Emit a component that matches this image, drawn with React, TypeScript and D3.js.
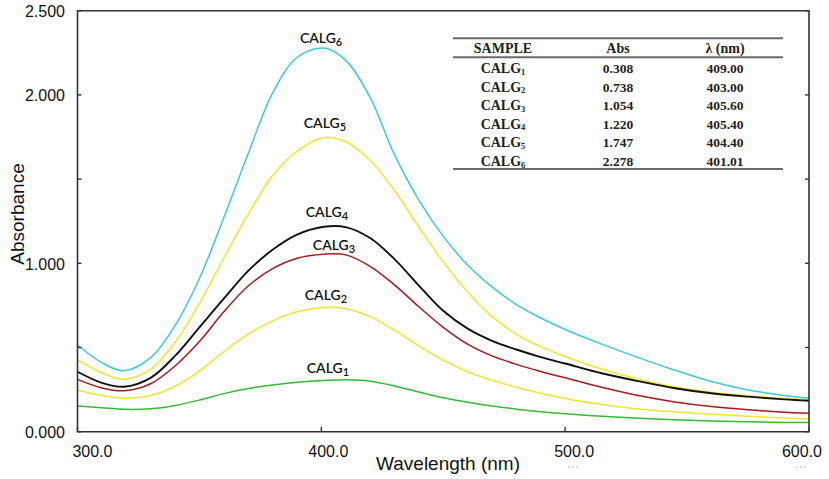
import { useEffect, useRef } from 'react';
import * as d3 from 'd3';

// wavelength grid (nm) shared by all spectra
const wavelengths = [300, 310, 319, 330, 340, 350, 360, 370, 380, 390, 401, 410, 420, 430, 440, 450, 460, 470, 480, 490, 500, 515, 530, 545, 560, 575, 590, 600];

const calg1 = [0.153, 0.142, 0.133, 0.136, 0.156, 0.188, 0.226, 0.256, 0.278, 0.294, 0.304, 0.308, 0.300, 0.272, 0.236, 0.202, 0.175, 0.153, 0.134, 0.119, 0.107, 0.092, 0.080, 0.071, 0.064, 0.059, 0.055, 0.054];
const calg2 = [0.248, 0.215, 0.198, 0.215, 0.270, 0.360, 0.475, 0.580, 0.658, 0.712, 0.738, 0.730, 0.683, 0.603, 0.510, 0.425, 0.356, 0.305, 0.264, 0.228, 0.197, 0.162, 0.135, 0.117, 0.103, 0.092, 0.081, 0.075];
const calg3 = [0.311, 0.260, 0.243, 0.285, 0.390, 0.535, 0.712, 0.865, 0.968, 1.030, 1.054, 1.050, 0.982, 0.872, 0.742, 0.620, 0.520, 0.450, 0.400, 0.358, 0.320, 0.264, 0.215, 0.177, 0.149, 0.130, 0.116, 0.109];
const calg4 = [0.356, 0.290, 0.267, 0.320, 0.450, 0.620, 0.790, 0.955, 1.080, 1.170, 1.217, 1.215, 1.150, 1.025, 0.868, 0.718, 0.612, 0.540, 0.488, 0.443, 0.405, 0.347, 0.300, 0.258, 0.228, 0.208, 0.192, 0.184];
const calg5 = [0.426, 0.350, 0.311, 0.370, 0.530, 0.760, 1.030, 1.290, 1.520, 1.665, 1.747, 1.722, 1.612, 1.432, 1.215, 1.010, 0.830, 0.685, 0.578, 0.505, 0.447, 0.372, 0.312, 0.266, 0.235, 0.213, 0.197, 0.188];
const calg6 = [0.515, 0.410, 0.362, 0.440, 0.630, 0.910, 1.270, 1.650, 2.010, 2.222, 2.278, 2.205, 1.985, 1.645, 1.375, 1.160, 0.990, 0.860, 0.755, 0.675, 0.607, 0.520, 0.440, 0.365, 0.298, 0.248, 0.215, 0.198];

const seriesNames = ['1', '2', '3', '4', '5', '6'];
const seriesValues = [calg1, calg2, calg3, calg4, calg5, calg6];
const seriesColors = ['#33bb33', '#f0e62c', '#a8191c', '#111111', '#f0e62c', '#3ccbd2'];
// label anchor (wavelength, absorbance) for each curve label
const labelAt: [number, number][] = [[402.7, 0.348], [401.9, 0.782], [405.2, 1.079], [402.3, 1.275], [401.5, 1.803], [399.9, 2.31]];

const yTicks = [0, 0.5, 1, 1.5, 2, 2.5];
const yTickLabels = ['0.000', '', '1.000', '', '2.000', '2.500'];
const xTicks = [300, 400, 500, 600];
const xTickLabels = ['300.0', '400.0', '500.0', '600.0'];
const xTickDx = [15, 7, 9, -7];

const tableHead = ['SAMPLE', 'Abs', 'λ (nm)'];
const tableAbs = ['0.308', '0.738', '1.054', '1.220', '1.747', '2.278'];
const tableLambda = ['409.00', '403.00', '405.60', '405.40', '404.40', '401.01'];

export default function App() {
  const svgRef = useRef<SVGSVGElement>(null);
  const width = 829;
  const height = 479;

  useEffect(() => {
    if (!svgRef.current) return;
    const svg = d3.select(svgRef.current);
    svg.selectAll('*').remove();

    const x = d3.scaleLinear().domain([300, 600]).range([77.5, 809]);
    const y = d3.scaleLinear().domain([0, 2.5]).range([431.7, 10.7]);

    svg.append('rect').attr('width', width).attr('height', height).attr('fill', '#fff');

    // spectra
    const line = d3.line<number>()
      .x((_, i) => x(wavelengths[i]))
      .y(d => y(d))
      .curve(d3.curveCatmullRom.alpha(0.5));

    const order = [0, 1, 2, 4, 3, 5];
    order.forEach(i => {
      svg.append('path')
        .attr('d', line(seriesValues[i]))
        .attr('fill', 'none')
        .attr('stroke', seriesColors[i])
        .attr('stroke-width', i === 3 ? 1.9 : 1.5);
    });

    // curve labels
    seriesNames.forEach((n, i) => {
      const t = svg.append('text')
        .attr('x', x(labelAt[i][0]))
        .attr('y', y(labelAt[i][1]))
        .attr('text-anchor', 'middle')
        .attr('font-family', 'Lato, "Open Sans", sans-serif')
        .attr('font-weight', 600)
        .attr('font-size', 14)
        .attr('fill', '#111');
      t.append('tspan').text('CALG');
      t.append('tspan').attr('font-size', 11).attr('dy', 3).text(n);
    });

    // frame
    const axisColor = '#333';
    svg.append('path')
      .attr('d', `M${x(300)},${y(2.5)}H${x(600)}V${y(0)}H${x(300)}Z`)
      .attr('fill', 'none')
      .attr('stroke', axisColor)
      .attr('stroke-width', 1.6);

    // ticks (inward)
    yTicks.forEach(v => {
      svg.append('line').attr('x1', x(300)).attr('x2', x(300) + 4)
        .attr('y1', y(v)).attr('y2', y(v)).attr('stroke', axisColor).attr('stroke-width', 1.4);
      svg.append('line').attr('x1', x(600)).attr('x2', x(600) - 4)
        .attr('y1', y(v)).attr('y2', y(v)).attr('stroke', axisColor).attr('stroke-width', 1.4);
    });
    xTicks.forEach(v => {
      svg.append('line').attr('x1', x(v)).attr('x2', x(v))
        .attr('y1', y(0)).attr('y2', y(0) - 5).attr('stroke', axisColor).attr('stroke-width', 1.4);
    });

    const sans = '"Liberation Sans", Arial, sans-serif';
    yTicks.forEach((v, i) => {
      if (!yTickLabels[i]) return;
      svg.append('text')
        .attr('x', 65)
        .attr('y', y(v) + 6.5)
        .attr('text-anchor', 'end')
        .attr('font-family', sans)
        .attr('font-size', 16)
        .attr('fill', '#111')
        .text(yTickLabels[i]);
    });
    xTicks.forEach((v, i) => {
      svg.append('text')
        .attr('x', x(v) + xTickDx[i])
        .attr('y', 456.5)
        .attr('text-anchor', 'middle')
        .attr('font-family', sans)
        .attr('font-size', 16)
        .attr('fill', '#111')
        .text(xTickLabels[i]);
    });
    // faint marks under two tick labels
    [500, 600].forEach((v, i) => {
      svg.append('line')
        .attr('x1', x(v) - 6 + xTickDx[i + 2]).attr('x2', x(v) + 6 + xTickDx[i + 2])
        .attr('y1', 467).attr('y2', 467)
        .attr('stroke', '#bbb').attr('stroke-width', 1).attr('stroke-dasharray', '2,2');
    });

    svg.append('text')
      .attr('x', 448)
      .attr('y', 470)
      .attr('text-anchor', 'middle')
      .attr('font-family', sans)
      .attr('font-size', 19)
      .attr('fill', '#111')
      .text('Wavelength (nm)');
    svg.append('text')
      .attr('transform', 'translate(24,214) rotate(-90)')
      .attr('text-anchor', 'middle')
      .attr('font-family', sans)
      .attr('font-size', 19)
      .attr('fill', '#111')
      .text('Absorbance');

    // inset table
    const tbl = svg.append('g');
    const serif = '"Liberation Serif", "Times New Roman", serif';
    const colX = [503, 618, 725];
    [38.3, 57.3, 169].forEach(yy => {
      tbl.append('line').attr('x1', 453).attr('x2', 783).attr('y1', yy).attr('y2', yy)
        .attr('stroke', '#6a6a6a').attr('stroke-width', 2);
    });
    tableHead.forEach((h, j) => {
      tbl.append('text').attr('x', colX[j]).attr('y', 53).attr('text-anchor', 'middle')
        .attr('font-family', serif).attr('font-weight', 'bold').attr('font-size', 14)
        .attr('fill', '#222').text(h);
    });
    tableAbs.forEach((a, r) => {
      const yy = 73 + r * 18.6;
      const name = tbl.append('text').attr('x', colX[0]).attr('y', yy).attr('text-anchor', 'middle')
        .attr('font-family', serif).attr('font-weight', 'bold').attr('font-size', 14)
        .attr('fill', '#222');
      name.append('tspan').text('CALG');
      name.append('tspan').attr('font-size', 8.5).attr('dy', 1.5).text(seriesNames[r]);
      [a, tableLambda[r]].forEach((c, j) => {
        tbl.append('text').attr('x', colX[j + 1]).attr('y', yy).attr('text-anchor', 'middle')
          .attr('font-family', serif).attr('font-weight', 'bold').attr('font-size', 13.5)
          .attr('fill', '#222').text(c);
      });
    });
  }, []);

  return (
    <svg
      ref={svgRef}
      width={width}
      height={height}
      style={{ position: 'absolute', left: 0, top: 0, display: 'block' }}
    />
  );
}
